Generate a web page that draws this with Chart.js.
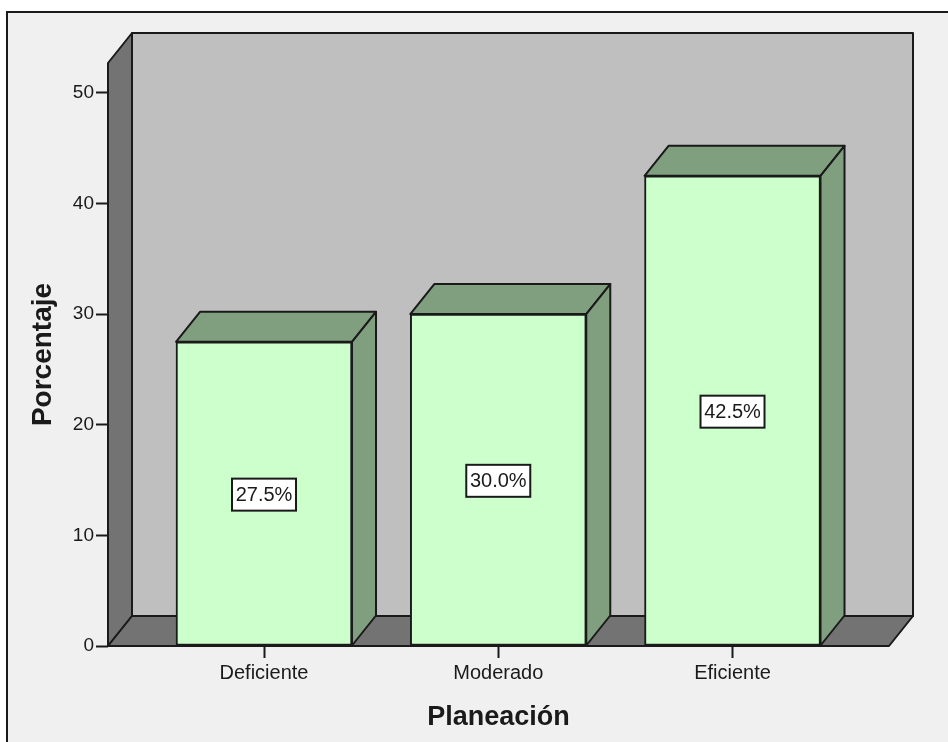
<!DOCTYPE html>
<html>
<head>
<meta charset="utf-8">
<title>Planeación</title>
<script src="https://cdn.jsdelivr.net/npm/chart.js@4/dist/chart.umd.min.js"></script>
<style>
  html, body { margin: 0; padding: 0; background: #ffffff; }
  #chartWrap { position: relative; width: 948px; height: 742px; }
</style>
</head>
<body>
<div id="chartWrap"><canvas id="chartPlaneacion"></canvas></div>
<script>
// Datos
const categorias = ['Deficiente', 'Moderado', 'Eficiente'];
const porcentajes = [27.5, 30.0, 42.5];
const ticksY = [0, 10, 20, 30, 40, 50];

// Colores
const COLOR_PANEL = '#f0f0f0';
const COLOR_FONDO = '#bfbfbf';
const COLOR_PARED = '#737373';
const COLOR_BARRA = '#ccffcc';
const COLOR_BARRA_SOMBRA = '#7f9f7f';
const COLOR_LINEA = '#1a1a1a';
const FUENTE = "'Liberation Sans', Arial, sans-serif";

// Desplazamiento de la profundidad 3D
const PROF_X = 24;
const PROF_Y = 30;

function poligono(ctx, puntos, relleno) {
  ctx.beginPath();
  puntos.forEach(function(p, i) {
    if (i === 0) ctx.moveTo(p[0], p[1]);
    else ctx.lineTo(p[0], p[1]);
  });
  ctx.closePath();
  ctx.fillStyle = relleno;
  ctx.fill();
  ctx.lineWidth = 2;
  ctx.lineJoin = 'round';
  ctx.strokeStyle = COLOR_LINEA;
  ctx.stroke();
}

/**
 * Panel de fondo y caja 3D (pared de fondo, pared izquierda y piso)
 */
const cajaPlugin = {
  id: 'caja3d',
  beforeDraw: function(chart) {
    const ctx = chart.ctx;
    const a = chart.chartArea;
    ctx.save();
    // El marco solo se ve arriba y a la izquierda, sigue fuera del canvas
    ctx.fillStyle = COLOR_PANEL;
    ctx.fillRect(7, 12, 960, 760);
    ctx.lineWidth = 2;
    ctx.strokeStyle = COLOR_LINEA;
    ctx.strokeRect(7, 12, 960, 760);

    poligono(ctx, [
      [a.left + PROF_X, a.top - PROF_Y], [a.right + PROF_X, a.top - PROF_Y],
      [a.right + PROF_X, a.bottom - PROF_Y], [a.left + PROF_X, a.bottom - PROF_Y]
    ], COLOR_FONDO);
    poligono(ctx, [
      [a.left, a.top], [a.left + PROF_X, a.top - PROF_Y],
      [a.left + PROF_X, a.bottom - PROF_Y], [a.left, a.bottom]
    ], COLOR_PARED);
    poligono(ctx, [
      [a.left, a.bottom], [a.left + PROF_X, a.bottom - PROF_Y],
      [a.right + PROF_X, a.bottom - PROF_Y], [a.right, a.bottom]
    ], COLOR_PARED);
    ctx.restore();
  },
  // Tapa y lateral de cada barra, antes de que se pinte el frente
  beforeDatasetsDraw: function(chart) {
    const ctx = chart.ctx;
    ctx.save();
    chart.getDatasetMeta(0).data.forEach(function(barra) {
      const izq = barra.x - barra.width / 2;
      const der = barra.x + barra.width / 2;
      poligono(ctx, [
        [izq, barra.y], [izq + PROF_X, barra.y - PROF_Y],
        [der + PROF_X, barra.y - PROF_Y], [der, barra.y]
      ], COLOR_BARRA_SOMBRA);
      poligono(ctx, [
        [der, barra.y], [der + PROF_X, barra.y - PROF_Y],
        [der + PROF_X, barra.base - PROF_Y], [der, barra.base]
      ], COLOR_BARRA_SOMBRA);
    });
    ctx.restore();
  },
  // Línea del eje X por encima del piso y de las barras
  afterDatasetsDraw: function(chart) {
    const ctx = chart.ctx;
    const a = chart.chartArea;
    ctx.save();
    ctx.lineWidth = 2;
    ctx.strokeStyle = COLOR_LINEA;
    ctx.beginPath();
    ctx.moveTo(a.left, a.bottom);
    ctx.lineTo(a.right, a.bottom);
    ctx.stroke();
    ctx.restore();
  }
};

/**
 * Etiquetas de porcentaje en caja blanca, al centro de cada barra
 */
const etiquetasPlugin = {
  id: 'etiquetas',
  afterDatasetsDraw: function(chart) {
    const ctx = chart.ctx;
    ctx.save();
    ctx.font = '20px ' + FUENTE;
    ctx.textAlign = 'center';
    ctx.textBaseline = 'middle';
    chart.getDatasetMeta(0).data.forEach(function(barra, i) {
      const texto = porcentajes[i].toFixed(1) + '%';
      const cy = (barra.y + barra.base) / 2;
      ctx.fillStyle = '#ffffff';
      ctx.fillRect(barra.x - 32, cy - 15, 64, 32);
      ctx.lineWidth = 2;
      ctx.strokeStyle = COLOR_LINEA;
      ctx.strokeRect(barra.x - 32, cy - 15, 64, 32);
      ctx.fillStyle = '#1a1a1a';
      ctx.fillText(texto, barra.x, cy + 2);
    });
    ctx.restore();
  }
};

new Chart(document.getElementById('chartPlaneacion'), {
  type: 'bar',
  data: {
    datasets: [{
      data: porcentajes.map(function(v, i) { return { x: i, y: v }; }),
      backgroundColor: COLOR_BARRA,
      borderColor: COLOR_LINEA,
      borderWidth: 2,
      borderSkipped: false,
      barThickness: 176
    }]
  },
  plugins: [cajaPlugin, etiquetasPlugin],
  options: {
    responsive: true,
    maintainAspectRatio: false,
    animation: false,
    layout: { padding: { top: 63, right: 59, left: 0, bottom: 0 } },
    plugins: { legend: { display: false }, tooltip: { enabled: false } },
    scales: {
      x: {
        type: 'linear',
        offset: false,
        min: -0.666,
        max: 2.668,
        afterBuildTicks: function(scale) {
          scale.ticks = categorias.map(function(_, i) { return { value: i }; });
        },
        afterFit: function(scale) { scale.height = 96; },
        border: { display: false },
        grid: { offset: false, drawOnChartArea: false, drawTicks: true, tickLength: 12, tickWidth: 2, color: COLOR_LINEA },
        ticks: {
          autoSkip: false,
          maxRotation: 0,
          padding: 3,
          color: '#1a1a1a',
          font: { family: FUENTE, size: 20 },
          callback: function(v) { return categorias[v]; }
        },
        title: {
          display: true,
          text: 'Planeación',
          color: '#1a1a1a',
          font: { family: FUENTE, size: 27, weight: 'bold' },
          padding: { top: 0, bottom: 8 }
        }
      },
      y: {
        min: 0,
        max: 52.7,
        afterBuildTicks: function(scale) {
          scale.ticks = ticksY.map(function(v) { return { value: v }; });
        },
        afterFit: function(scale) { scale.width = 108; },
        border: { display: false },
        grid: { drawOnChartArea: false, drawTicks: true, tickLength: 12, tickWidth: 2, color: COLOR_LINEA },
        ticks: {
          padding: 2,
          color: '#1a1a1a',
          font: { family: FUENTE, size: 19 }
        },
        title: {
          display: true,
          text: 'Porcentaje',
          color: '#1a1a1a',
          font: { family: FUENTE, size: 28, weight: 'bold' },
          padding: { top: 26, bottom: 0 }
        }
      }
    }
  }
});
</script>
</body>
</html>
